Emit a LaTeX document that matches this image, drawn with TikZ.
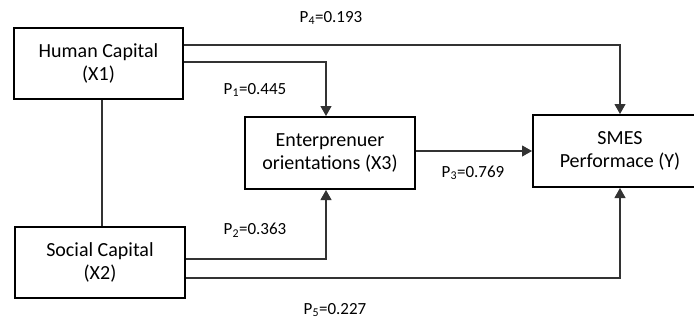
\documentclass[tikz,border=0pt]{standalone}
\usepackage{fontspec}
\setmainfont{Carlito}
\usetikzlibrary{arrows.meta}
\usetikzlibrary{positioning}

\begin{document}
\begin{tikzpicture}[
  x=1pt,y=-1pt,
  var/.style={rectangle,draw,line width=2pt,align=center,
    font=\fontsize{20}{23}\selectfont},
  coef/.style={font=\fontsize{17}{19}\selectfont},
  path/.style={draw=black!80,line width=1.1pt},
  arrow/.style={path,-{Triangle[length=10pt,width=11pt]}}]
\useasboundingbox (0,0) rectangle (694,322);
% variables
\node[var,minimum width=169pt,minimum height=71pt] (hc) at (98.5,63.5) {Human Capital\\(X1)};
\node[var,minimum width=170pt,minimum height=71pt] (sc) at (100,262.5) {Social Capital\\(X2)};
\node[var,minimum width=170pt,minimum height=72pt] (eo) at (330,153) {Enterprenuer\\orientations (X3)};
\node[var,minimum width=174pt,minimum height=72pt] (smes) at (620,151) {SMES\\Performace (Y)};
% paths
\draw[path] ([xshift=3.5pt]hc.south) -- ([xshift=2pt]sc.north);
\draw[arrow] ([yshift=18.5pt]hc.east) -| (smes.north);
\draw[arrow] ([yshift=1.5pt]hc.east) -| ([xshift=-4pt]eo.north);
\draw[arrow] ([yshift=2pt]eo.east) -- ([yshift=2pt]eo.east -| smes.west);
\draw[arrow] ([yshift=3.5pt]sc.east) -| ([xshift=-4pt]eo.south);
\draw[arrow] ([yshift=-15.5pt]sc.east) -| (smes.south);
% coefficients
\node[coef] (p4) at (331,18) {P\textsubscript{4}=0.193};
\node[coef] (p1) at (255,90) {P\textsubscript{1}=0.445};
\node[coef] (p2) at (255,230) {P\textsubscript{2}=0.363};
\node[coef] (p3) at (473,173) {P\textsubscript{3}=0.769};
\node[coef] (p5) at (335,310) {P\textsubscript{5}=0.227};
\end{tikzpicture}
\end{document}
